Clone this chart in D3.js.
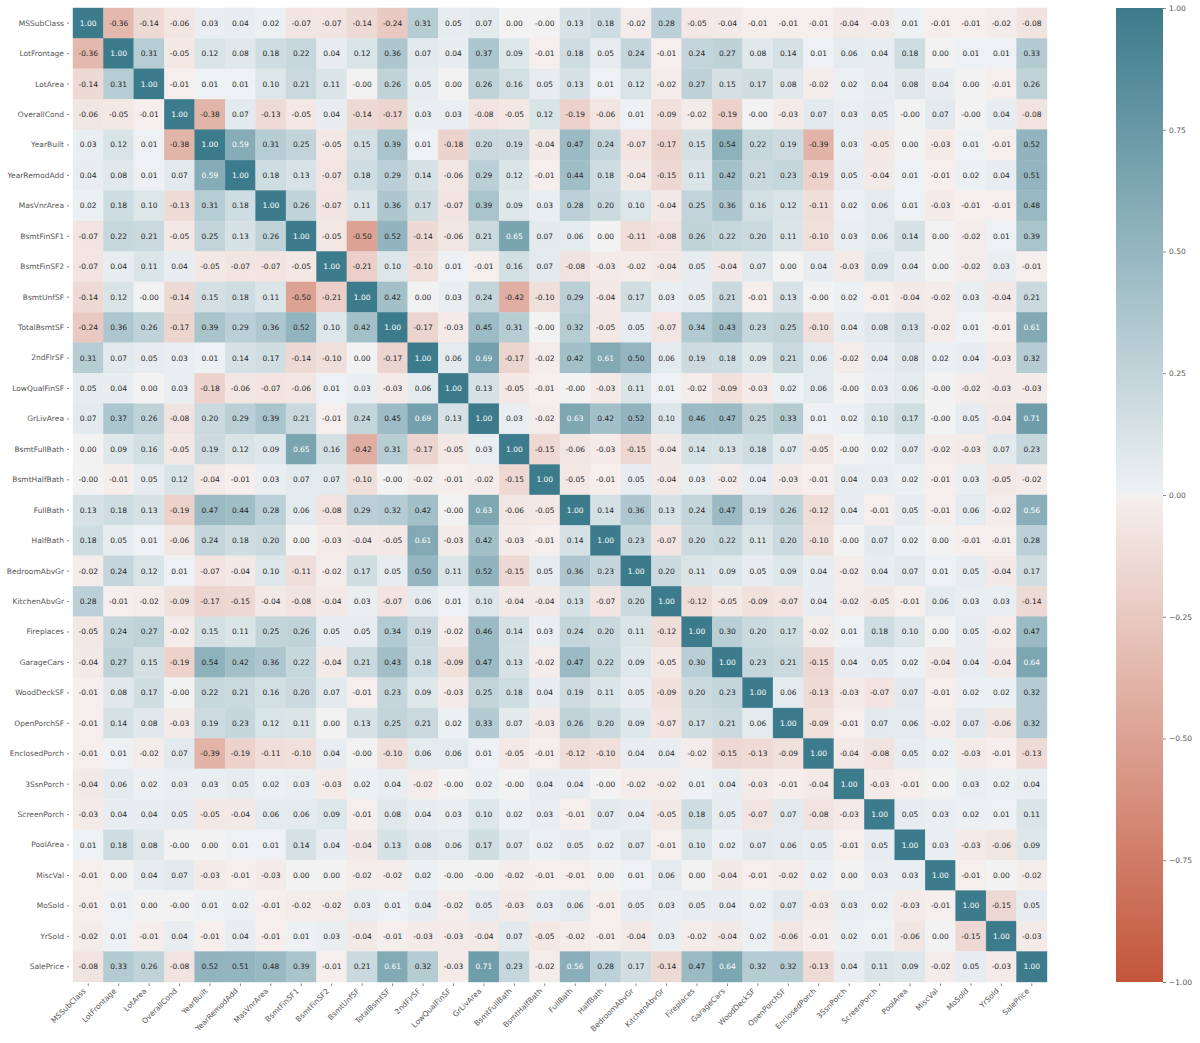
<!DOCTYPE html>
<html>
<head>
<meta charset="utf-8">
<script src="https://cdn.jsdelivr.net/npm/d3@7"></script>
<style>
  body { margin: 0; background: #fff; }
  svg { display: block; font-family: "DejaVu Sans", sans-serif; }
</style>
</head>
<body>
<svg id="chart" width="1200" height="1043"></svg>
<script>
const labels = ["MSSubClass", "LotFrontage", "LotArea", "OverallCond", "YearBuilt", "YearRemodAdd",
  "MasVnrArea", "BsmtFinSF1", "BsmtFinSF2", "BsmtUnfSF", "TotalBsmtSF", "2ndFlrSF", "LowQualFinSF",
  "GrLivArea", "BsmtFullBath", "BsmtHalfBath", "FullBath", "HalfBath", "BedroomAbvGr", "KitchenAbvGr",
  "Fireplaces", "GarageCars", "WoodDeckSF", "OpenPorchSF", "EnclosedPorch", "3SsnPorch", "ScreenPorch",
  "PoolArea", "MiscVal", "MoSold", "YrSold", "SalePrice"];

// correlation matrix, one row per variable (same order as labels)
const corr = [
  [1.00,-0.36,-0.14,-0.06,0.03,0.04,0.02,-0.07,-0.07,-0.14,-0.24,0.31,0.05,0.07,0.00,-0.00,0.13,0.18,-0.02,0.28,-0.05,-0.04,-0.01,-0.01,-0.01,-0.04,-0.03,0.01,-0.01,-0.01,-0.02,-0.08],
  [-0.36,1.00,0.31,-0.05,0.12,0.08,0.18,0.22,0.04,0.12,0.36,0.07,0.04,0.37,0.09,-0.01,0.18,0.05,0.24,-0.01,0.24,0.27,0.08,0.14,0.01,0.06,0.04,0.18,0.00,0.01,0.01,0.33],
  [-0.14,0.31,1.00,-0.01,0.01,0.01,0.10,0.21,0.11,-0.00,0.26,0.05,0.00,0.26,0.16,0.05,0.13,0.01,0.12,-0.02,0.27,0.15,0.17,0.08,-0.02,0.02,0.04,0.08,0.04,0.00,-0.01,0.26],
  [-0.06,-0.05,-0.01,1.00,-0.38,0.07,-0.13,-0.05,0.04,-0.14,-0.17,0.03,0.03,-0.08,-0.05,0.12,-0.19,-0.06,0.01,-0.09,-0.02,-0.19,-0.00,-0.03,0.07,0.03,0.05,-0.00,0.07,-0.00,0.04,-0.08],
  [0.03,0.12,0.01,-0.38,1.00,0.59,0.31,0.25,-0.05,0.15,0.39,0.01,-0.18,0.20,0.19,-0.04,0.47,0.24,-0.07,-0.17,0.15,0.54,0.22,0.19,-0.39,0.03,-0.05,0.00,-0.03,0.01,-0.01,0.52],
  [0.04,0.08,0.01,0.07,0.59,1.00,0.18,0.13,-0.07,0.18,0.29,0.14,-0.06,0.29,0.12,-0.01,0.44,0.18,-0.04,-0.15,0.11,0.42,0.21,0.23,-0.19,0.05,-0.04,0.01,-0.01,0.02,0.04,0.51],
  [0.02,0.18,0.10,-0.13,0.31,0.18,1.00,0.26,-0.07,0.11,0.36,0.17,-0.07,0.39,0.09,0.03,0.28,0.20,0.10,-0.04,0.25,0.36,0.16,0.12,-0.11,0.02,0.06,0.01,-0.03,-0.01,-0.01,0.48],
  [-0.07,0.22,0.21,-0.05,0.25,0.13,0.26,1.00,-0.05,-0.50,0.52,-0.14,-0.06,0.21,0.65,0.07,0.06,0.00,-0.11,-0.08,0.26,0.22,0.20,0.11,-0.10,0.03,0.06,0.14,0.00,-0.02,0.01,0.39],
  [-0.07,0.04,0.11,0.04,-0.05,-0.07,-0.07,-0.05,1.00,-0.21,0.10,-0.10,0.01,-0.01,0.16,0.07,-0.08,-0.03,-0.02,-0.04,0.05,-0.04,0.07,0.00,0.04,-0.03,0.09,0.04,0.00,-0.02,0.03,-0.01],
  [-0.14,0.12,-0.00,-0.14,0.15,0.18,0.11,-0.50,-0.21,1.00,0.42,0.00,0.03,0.24,-0.42,-0.10,0.29,-0.04,0.17,0.03,0.05,0.21,-0.01,0.13,-0.00,0.02,-0.01,-0.04,-0.02,0.03,-0.04,0.21],
  [-0.24,0.36,0.26,-0.17,0.39,0.29,0.36,0.52,0.10,0.42,1.00,-0.17,-0.03,0.45,0.31,-0.00,0.32,-0.05,0.05,-0.07,0.34,0.43,0.23,0.25,-0.10,0.04,0.08,0.13,-0.02,0.01,-0.01,0.61],
  [0.31,0.07,0.05,0.03,0.01,0.14,0.17,-0.14,-0.10,0.00,-0.17,1.00,0.06,0.69,-0.17,-0.02,0.42,0.61,0.50,0.06,0.19,0.18,0.09,0.21,0.06,-0.02,0.04,0.08,0.02,0.04,-0.03,0.32],
  [0.05,0.04,0.00,0.03,-0.18,-0.06,-0.07,-0.06,0.01,0.03,-0.03,0.06,1.00,0.13,-0.05,-0.01,-0.00,-0.03,0.11,0.01,-0.02,-0.09,-0.03,0.02,0.06,-0.00,0.03,0.06,-0.00,-0.02,-0.03,-0.03],
  [0.07,0.37,0.26,-0.08,0.20,0.29,0.39,0.21,-0.01,0.24,0.45,0.69,0.13,1.00,0.03,-0.02,0.63,0.42,0.52,0.10,0.46,0.47,0.25,0.33,0.01,0.02,0.10,0.17,-0.00,0.05,-0.04,0.71],
  [0.00,0.09,0.16,-0.05,0.19,0.12,0.09,0.65,0.16,-0.42,0.31,-0.17,-0.05,0.03,1.00,-0.15,-0.06,-0.03,-0.15,-0.04,0.14,0.13,0.18,0.07,-0.05,-0.00,0.02,0.07,-0.02,-0.03,0.07,0.23],
  [-0.00,-0.01,0.05,0.12,-0.04,-0.01,0.03,0.07,0.07,-0.10,-0.00,-0.02,-0.01,-0.02,-0.15,1.00,-0.05,-0.01,0.05,-0.04,0.03,-0.02,0.04,-0.03,-0.01,0.04,0.03,0.02,-0.01,0.03,-0.05,-0.02],
  [0.13,0.18,0.13,-0.19,0.47,0.44,0.28,0.06,-0.08,0.29,0.32,0.42,-0.00,0.63,-0.06,-0.05,1.00,0.14,0.36,0.13,0.24,0.47,0.19,0.26,-0.12,0.04,-0.01,0.05,-0.01,0.06,-0.02,0.56],
  [0.18,0.05,0.01,-0.06,0.24,0.18,0.20,0.00,-0.03,-0.04,-0.05,0.61,-0.03,0.42,-0.03,-0.01,0.14,1.00,0.23,-0.07,0.20,0.22,0.11,0.20,-0.10,-0.00,0.07,0.02,0.00,-0.01,-0.01,0.28],
  [-0.02,0.24,0.12,0.01,-0.07,-0.04,0.10,-0.11,-0.02,0.17,0.05,0.50,0.11,0.52,-0.15,0.05,0.36,0.23,1.00,0.20,0.11,0.09,0.05,0.09,0.04,-0.02,0.04,0.07,0.01,0.05,-0.04,0.17],
  [0.28,-0.01,-0.02,-0.09,-0.17,-0.15,-0.04,-0.08,-0.04,0.03,-0.07,0.06,0.01,0.10,-0.04,-0.04,0.13,-0.07,0.20,1.00,-0.12,-0.05,-0.09,-0.07,0.04,-0.02,-0.05,-0.01,0.06,0.03,0.03,-0.14],
  [-0.05,0.24,0.27,-0.02,0.15,0.11,0.25,0.26,0.05,0.05,0.34,0.19,-0.02,0.46,0.14,0.03,0.24,0.20,0.11,-0.12,1.00,0.30,0.20,0.17,-0.02,0.01,0.18,0.10,0.00,0.05,-0.02,0.47],
  [-0.04,0.27,0.15,-0.19,0.54,0.42,0.36,0.22,-0.04,0.21,0.43,0.18,-0.09,0.47,0.13,-0.02,0.47,0.22,0.09,-0.05,0.30,1.00,0.23,0.21,-0.15,0.04,0.05,0.02,-0.04,0.04,-0.04,0.64],
  [-0.01,0.08,0.17,-0.00,0.22,0.21,0.16,0.20,0.07,-0.01,0.23,0.09,-0.03,0.25,0.18,0.04,0.19,0.11,0.05,-0.09,0.20,0.23,1.00,0.06,-0.13,-0.03,-0.07,0.07,-0.01,0.02,0.02,0.32],
  [-0.01,0.14,0.08,-0.03,0.19,0.23,0.12,0.11,0.00,0.13,0.25,0.21,0.02,0.33,0.07,-0.03,0.26,0.20,0.09,-0.07,0.17,0.21,0.06,1.00,-0.09,-0.01,0.07,0.06,-0.02,0.07,-0.06,0.32],
  [-0.01,0.01,-0.02,0.07,-0.39,-0.19,-0.11,-0.10,0.04,-0.00,-0.10,0.06,0.06,0.01,-0.05,-0.01,-0.12,-0.10,0.04,0.04,-0.02,-0.15,-0.13,-0.09,1.00,-0.04,-0.08,0.05,0.02,-0.03,-0.01,-0.13],
  [-0.04,0.06,0.02,0.03,0.03,0.05,0.02,0.03,-0.03,0.02,0.04,-0.02,-0.00,0.02,-0.00,0.04,0.04,-0.00,-0.02,-0.02,0.01,0.04,-0.03,-0.01,-0.04,1.00,-0.03,-0.01,0.00,0.03,0.02,0.04],
  [-0.03,0.04,0.04,0.05,-0.05,-0.04,0.06,0.06,0.09,-0.01,0.08,0.04,0.03,0.10,0.02,0.03,-0.01,0.07,0.04,-0.05,0.18,0.05,-0.07,0.07,-0.08,-0.03,1.00,0.05,0.03,0.02,0.01,0.11],
  [0.01,0.18,0.08,-0.00,0.00,0.01,0.01,0.14,0.04,-0.04,0.13,0.08,0.06,0.17,0.07,0.02,0.05,0.02,0.07,-0.01,0.10,0.02,0.07,0.06,0.05,-0.01,0.05,1.00,0.03,-0.03,-0.06,0.09],
  [-0.01,0.00,0.04,0.07,-0.03,-0.01,-0.03,0.00,0.00,-0.02,-0.02,0.02,-0.00,-0.00,-0.02,-0.01,-0.01,0.00,0.01,0.06,0.00,-0.04,-0.01,-0.02,0.02,0.00,0.03,0.03,1.00,-0.01,0.00,-0.02],
  [-0.01,0.01,0.00,-0.00,0.01,0.02,-0.01,-0.02,-0.02,0.03,0.01,0.04,-0.02,0.05,-0.03,0.03,0.06,-0.01,0.05,0.03,0.05,0.04,0.02,0.07,-0.03,0.03,0.02,-0.03,-0.01,1.00,-0.15,0.05],
  [-0.02,0.01,-0.01,0.04,-0.01,0.04,-0.01,0.01,0.03,-0.04,-0.01,-0.03,-0.03,-0.04,0.07,-0.05,-0.02,-0.01,-0.04,0.03,-0.02,-0.04,0.02,-0.06,-0.01,0.02,0.01,-0.06,0.00,-0.15,1.00,-0.03],
  [-0.08,0.33,0.26,-0.08,0.52,0.51,0.48,0.39,-0.01,0.21,0.61,0.32,-0.03,0.71,0.23,-0.02,0.56,0.28,0.17,-0.14,0.47,0.64,0.32,0.32,-0.13,0.04,0.11,0.09,-0.02,0.05,-0.03,1.00]
];

const cbarTicks = [-1, -0.75, -0.5, -0.25, 0, 0.25, 0.5, 0.75, 1];

const svg = d3.select("#chart");
const mLeft = 73, mTop = 8, size = 974;
const fontSize = 7.5;

const x = d3.scaleBand().domain(labels).range([mLeft, mLeft + size]);
const y = d3.scaleBand().domain(labels).range([mTop, mTop + size]);

// diverging palette: red (neg) -> light gray -> teal (pos), blended in rgb
const color = d3.scaleLinear()
  .domain([-1, -0.008, 0, 0.008, 1])
  .range(["#c3553a", "#f5eeec", "#f2f2f2", "#edf1f3", "#3c7b8c"])
  .interpolate(d3.interpolateRgb)
  .clamp(true);

function luminance(c) {
  const rgb = d3.rgb(c);
  const lin = v => {
    v = v / 255;
    return v <= 0.03928 ? v / 12.92 : Math.pow((v + 0.055) / 1.055, 2.4);
  };
  return 0.2126 * lin(rgb.r) + 0.7152 * lin(rgb.g) + 0.0722 * lin(rgb.b);
}

// keep the sign of -0.00 like the original annotations
const fmt = v => (Object.is(v, -0) ? "-" : "") + v.toFixed(2);

const cells = [];
corr.forEach((row, i) => {
  row.forEach((v, j) => cells.push({ r: labels[i], c: labels[j], v: v }));
});

svg.append("g")
  .selectAll("rect")
  .data(cells)
  .join("rect")
  .attr("x", d => x(d.c))
  .attr("y", d => y(d.r))
  .attr("width", x.bandwidth())
  .attr("height", y.bandwidth())
  .attr("fill", d => color(d.v))
  .attr("stroke", d => color(d.v))
  .attr("stroke-width", 0.4);

svg.append("g")
  .selectAll("text")
  .data(cells)
  .join("text")
  .attr("x", d => x(d.c) + x.bandwidth() / 2)
  .attr("y", d => y(d.r) + y.bandwidth() / 2)
  .attr("text-anchor", "middle")
  .attr("dominant-baseline", "central")
  .attr("font-size", fontSize)
  .attr("fill", d => luminance(color(d.v)) > 0.408 ? "#262626" : "#ffffff")
  .text(d => fmt(d.v));

// axes
const yAxis = svg.append("g")
  .attr("transform", `translate(${mLeft},0)`)
  .call(d3.axisLeft(y).tickSize(6).tickPadding(3));
yAxis.select(".domain").remove();
yAxis.selectAll("line").attr("x1", -4);

const xAxis = svg.append("g")
  .attr("transform", `translate(0,${mTop + size})`)
  .call(d3.axisBottom(x).tickSize(4).tickPadding(3));
xAxis.select(".domain").remove();
xAxis.selectAll("line").attr("y1", 1.5);
xAxis.selectAll("text")
  .attr("y", 0)
  .attr("dy", 0)
  .attr("text-anchor", "end")
  .attr("transform", "translate(-2,9.5) rotate(-45)");

[yAxis, xAxis].forEach(g => {
  g.selectAll("text").attr("font-size", fontSize).attr("fill", "#555").attr("font-family", "DejaVu Sans");
  g.selectAll("line").attr("stroke", "#555").attr("stroke-width", 0.7);
});

// colorbar
const cbX = 1116, cbW = 47;
const cbScale = d3.scaleLinear().domain([-1, 1]).range([mTop + size, mTop]);

const grad = svg.append("defs").append("linearGradient")
  .attr("id", "cbgrad")
  .attr("x1", 0).attr("y1", 1).attr("x2", 0).attr("y2", 0);
grad.selectAll("stop")
  .data(color.domain())
  .join("stop")
  .attr("offset", d => (d + 1) / 2)
  .attr("stop-color", d => color(d));

svg.append("rect")
  .attr("x", cbX)
  .attr("y", mTop)
  .attr("width", cbW)
  .attr("height", size)
  .attr("fill", "url(#cbgrad)");

const cbAxis = svg.append("g")
  .attr("transform", `translate(${cbX + cbW},0)`)
  .call(d3.axisRight(cbScale).tickValues(cbarTicks).tickFormat(d3.format(".2f")).tickSize(3).tickPadding(3));
cbAxis.select(".domain").remove();
cbAxis.selectAll("text").attr("font-size", fontSize).attr("fill", "#555").attr("font-family", "DejaVu Sans");
cbAxis.selectAll("line").attr("stroke", "#555").attr("stroke-width", 0.7);
</script>
</body>
</html>
